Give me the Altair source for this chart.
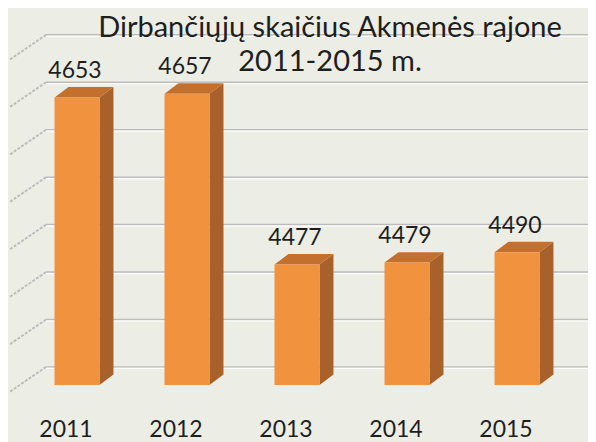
import altair as alt
import pandas as pd

# ---- data ----
years = [2011, 2012, 2013, 2014, 2015]
values = [4653, 4657, 4477, 4479, 4490]
grid_values = [4350, 4400, 4450, 4500, 4550, 4600, 4650, 4700]
title_lines = ["Dirbančiųjų skaičius Akmenės rajone", "2011-2015 m."]

# ---- 3D geometry (in data units) ----
BASE = 4350
HW = 0.2045   # half width of bar front face
DX = 0.127    # depth along x
DV = 11       # depth along value
WALL = 19     # back wall offset
WALL_X0 = 2010.718
SIDE_X = 2010.391
DIAG = 26

FRONT = "#f0923e"
SIDE = "#a8612a"
TOP = "#c3702e"
FONT = "Lato"

xs = alt.Scale(domain=[2010.3727, 2015.6455], nice=False, zero=False)
ys = alt.Scale(domain=[4289.94, 4747.26], nice=False, zero=False)

bars = pd.DataFrame({"year": years, "value": values})
bars["x0"] = bars["year"] - HW
bars["x1"] = bars["year"] + HW
bars["base"] = BASE
bars["top"] = bars["value"] + DV

side_rows, top_rows = [], []
for yr, v in zip(years, values):
    x0, x1 = yr - HW, yr + HW
    side_rows += [
        {"bar": str(yr), "px": x1, "pa": v, "pb": BASE},
        {"bar": str(yr), "px": x1 + DX, "pa": v + DV, "pb": BASE + DV},
    ]
    top_rows += [
        {"bar": str(yr), "px": x0, "pa": v, "pb": v},
        {"bar": str(yr), "px": x0 + DX, "pa": v + DV, "pb": v},
        {"bar": str(yr), "px": x1, "pa": v + DV, "pb": v},
        {"bar": str(yr), "px": x1 + DX, "pa": v + DV, "pb": v + DV},
    ]
side = pd.DataFrame(side_rows)
topf = pd.DataFrame(top_rows)

grid = pd.DataFrame({"v": grid_values})
grid["yb"] = grid["v"] + WALL
grid["yd"] = grid["v"] + WALL - DIAG
grid["xs"] = WALL_X0
grid["xe"] = 2015.6455
grid["xd"] = SIDE_X

X = lambda f: alt.X(f, type="quantitative", scale=xs, axis=None)
Y = lambda f: alt.Y(f, type="quantitative", scale=ys, axis=None)

g = alt.Chart(grid)
grid_dark = g.mark_rule(color="#bcbcbc", strokeWidth=1.5).encode(x=X("xs"), x2="xe", y=Y("yb"))
grid_light = g.mark_rule(color="#ffffff", strokeWidth=1.2, yOffset=1.5).encode(x=X("xs"), x2="xe", y=Y("yb"))
diag = g.mark_rule(color="#bdbdbd", strokeWidth=2, strokeDash=[3, 1.5]).encode(
    x=X("xs"), x2="xd", y=Y("yb"), y2="yd")

front = alt.Chart(bars).mark_rect(color=FRONT).encode(x=X("x0"), x2="x1", y=Y("base"), y2="value")


def face(df, color):
    return alt.Chart(df).mark_area(color=color, interpolate="linear", orient="vertical",
                                   opacity=1).encode(
        x=alt.X("px:Q", scale=xs, axis=None),
        y=alt.Y("pa:Q", scale=ys, axis=None, stack=None),
        y2=alt.Y2("pb:Q"),
        detail=alt.Detail("bar:N"),
    )


side_m = face(side, SIDE)
top_m = face(topf, TOP)

vlabels = alt.Chart(bars).mark_text(font=FONT, fontSize=23, color="#1e1e1e",
                                    baseline="alphabetic", dx=-2, dy=-9).encode(
    x=X("year"), y=Y("top"), text=alt.Text("value:Q", format="d"))
ylabels = alt.Chart(bars).mark_text(font=FONT, fontSize=23, color="#1e1e1e",
                                    baseline="alphabetic", dx=-11).encode(
    x=X("year"), y=alt.value(429), text=alt.Text("year:Q", format="d"))

tdf = pd.DataFrame({"t": title_lines})
title1 = alt.Chart(tdf.iloc[[0]]).mark_text(font=FONT, fontSize=29, color="#1e1e1e",
                                            baseline="top").encode(
    x=alt.value(322), y=alt.value(6), text="t:N")
title2 = alt.Chart(tdf.iloc[[1]]).mark_text(font=FONT, fontSize=29, color="#1e1e1e",
                                            baseline="alphabetic").encode(
    x=alt.value(322), y=alt.value(63), text="t:N")

chart = alt.layer(grid_dark, grid_light, diag, side_m, top_m, front,
                  vlabels, ylabels, title1, title2).properties(
    width=580, height=434, autosize=alt.AutoSizeParams(type="none"), padding=0,
    background="#eceee6"
).configure_view(stroke=None)

chart.save("out.html", embed_options={"renderer": "svg", "actions": False})
